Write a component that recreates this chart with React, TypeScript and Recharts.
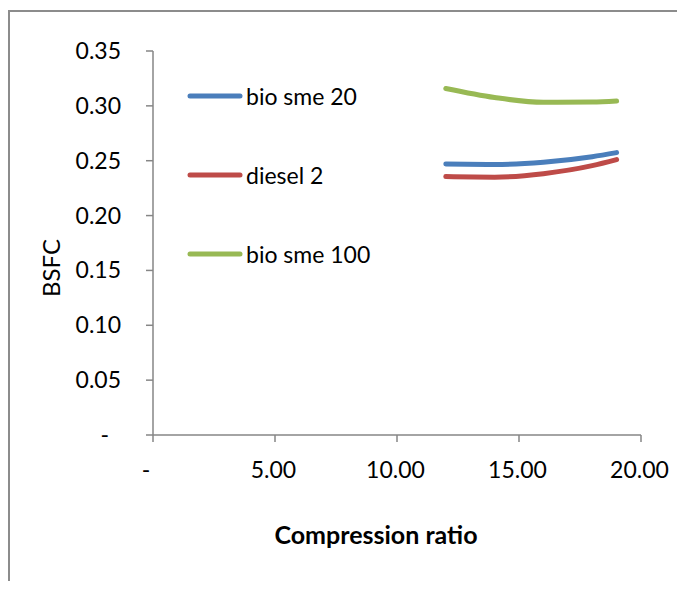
import { Line, LineChart, XAxis, YAxis } from "recharts";

// compression ratio vs BSFC
const ratios = [12, 14, 16, 18, 19];
const bioSme20 = [0.247, 0.2466, 0.2487, 0.2537, 0.2574];
const diesel2 = [0.2355, 0.235, 0.2382, 0.2455, 0.251];
const bioSme100 = [0.3158, 0.3076, 0.3032, 0.3035, 0.3044];

const xTicks = [0, 5, 10, 15, 20];
const yTicks = [0, 0.05, 0.1, 0.15, 0.2, 0.25, 0.3, 0.35];

const data = ratios.map((r, i) => ({
  ratio: r,
  bio20: bioSme20[i],
  diesel: diesel2[i],
  bio100: bioSme100[i],
}));

const series = [
  { key: "bio20", name: "bio sme 20", color: "#4a7ebb" },
  { key: "diesel", name: "diesel 2", color: "#be4b48" },
  { key: "bio100", name: "bio sme 100", color: "#98b954" },
];

const FONT = "Lato, 'Open Sans', sans-serif";
const AXIS = "#868686";

function XTick({ x, y, payload }: any) {
  const zero = payload.value === 0;
  return (
    <text
      x={x}
      y={y}
      dx={zero ? -7 : -1.5}
      dy="0.71em"
      textAnchor="middle"
      fontFamily={FONT}
      fontSize={23}
      fill="#000"
    >
      {zero ? "-" : payload.value.toFixed(2)}
    </text>
  );
}

function YTick({ x, y, payload }: any) {
  const zero = payload.value === 0;
  return (
    <text
      x={x}
      y={y}
      dx={zero ? -12 : 0}
      dy="0.35em"
      textAnchor="end"
      fontFamily={FONT}
      fontSize={23}
      fill="#000"
    >
      {zero ? "-" : payload.value.toFixed(2)}
    </text>
  );
}

export default function App() {
  return (
    <div style={{ position: "relative", width: 685, height: 589, margin: -8, overflow: "hidden", background: "#fff" }}>
      <div
        style={{
          position: "absolute",
          left: 8,
          top: 10,
          width: 700,
          height: 620,
          border: "2px solid #8c8c8c",
        }}
      />
      <div style={{ position: "absolute", left: 0, top: 0 }}>
        <LineChart width={685} height={589} data={data} margin={{ top: 51, right: 44, bottom: 0, left: 0 }}>
          <XAxis
            dataKey="ratio"
            type="number"
            domain={[0, 20]}
            ticks={xTicks}
            height={154}
            stroke={AXIS}
            strokeWidth={1.5}
            tickSize={7}
            tickMargin={20}
            tick={<XTick />}
            label={() => (
              <text x={376} y={544} textAnchor="middle" fontFamily={FONT} fontSize={25} fontWeight="bold" fill="#000">
                Compression ratio
              </text>
            )}
          />
          <YAxis
            type="number"
            domain={[0, 0.35]}
            ticks={yTicks}
            width={153}
            stroke={AXIS}
            strokeWidth={1.5}
            tickSize={7}
            tickMargin={25}
            tick={<YTick />}
            label={() => (
              <text
                x={60}
                y={268}
                transform="rotate(-90 60 268)"
                textAnchor="middle"
                fontFamily={FONT}
                fontSize={24}
                fill="#000"
              >
                BSFC
              </text>
            )}
          />
          {series.map((s) => (
            <Line
              key={s.key}
              dataKey={s.key}
              name={s.name}
              type="monotone"
              stroke={s.color}
              strokeWidth={5}
              strokeLinecap="round"
              dot={false}
              isAnimationActive={false}
            />
          ))}
        </LineChart>
      </div>
      <div style={{ position: "absolute", left: 186, top: 56, fontFamily: FONT, fontSize: 23 }}>
        {series.map((s) => (
          <div key={s.key} style={{ display: "flex", alignItems: "center", height: 79 }}>
            <svg width={58} height={8}>
              <line x1={4} y1={4} x2={54} y2={4} stroke={s.color} strokeWidth={5} strokeLinecap="round" />
            </svg>
            <span style={{ marginLeft: 2 }}>{s.name}</span>
          </div>
        ))}
      </div>
    </div>
  );
}
